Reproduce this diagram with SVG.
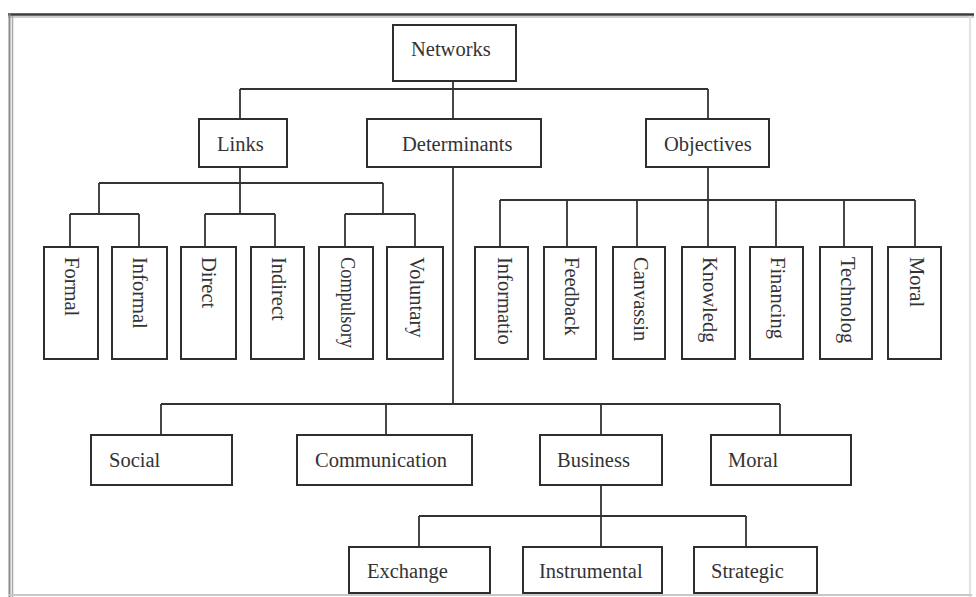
<svg xmlns="http://www.w3.org/2000/svg" width="976" height="597" viewBox="0 0 976 597">
  <style>
    .box { fill: #ffffff; stroke: #2e2e2e; stroke-width: 2; }
    .wire { fill: none; stroke: #333333; stroke-width: 1.8; }
    .lbl { font-family: "Liberation Serif", "Times New Roman", serif; font-size: 20.5px; fill: #333333; }
  </style>

  <rect x="0" y="0" width="976" height="597" fill="#ffffff"/>

  <!-- page frame -->
  <g id="frame" fill="none">
    <line x1="8" y1="14.5" x2="974" y2="14.5" stroke="#3a3a3a" stroke-width="2.5"/>
    <line x1="8" y1="17" x2="974" y2="17" stroke="#bdbdbd" stroke-width="1.5"/>
    <line x1="9.5" y1="14" x2="9.5" y2="597" stroke="#8a8a8a" stroke-width="2"/>
    <line x1="12.5" y1="16" x2="12.5" y2="597" stroke="#a8a8a8" stroke-width="1.5"/>
    <line x1="970" y1="16" x2="970" y2="597" stroke="#e2e2e2" stroke-width="2"/>
    <line x1="9" y1="595" x2="972" y2="595" stroke="#c8c8c8" stroke-width="2"/>
  </g>

  <!-- connectors -->
  <g id="connectors" class="wire">
    <!-- Networks -->
    <path d="M453 81 V119 M240 89 H708 M240 89 V119 M708 89 V119"/>
    <!-- Links -->
    <path d="M240 167 V214 M99 183 H383 M99 183 V214 M383 183 V214"/>
    <path d="M70 214 H139 M70 214 V247 M139 214 V247"/>
    <path d="M205 214 H275 M205 214 V247 M275 214 V247"/>
    <path d="M345 214 H415 M345 214 V247 M415 214 V247"/>
    <!-- Objectives -->
    <path d="M708 167 V247 M500 200 H915"/>
    <path d="M500 200 V247 M567 200 V247 M637 200 V247 M776 200 V247 M844 200 V247 M915 200 V247"/>
    <!-- Determinants -->
    <path d="M453 167 V404 M161 404 H780"/>
    <path d="M161 404 V435 M386 404 V435 M601 404 V435 M780 404 V435"/>
    <!-- Business -->
    <path d="M601 485 V547 M419 516 H746 M419 516 V547 M746 516 V547"/>
  </g>

  <!-- level 0 -->
  <g id="n-networks">
    <rect class="box" x="393" y="25" width="123" height="56"/>
    <text class="lbl" x="411" y="56">Networks</text>
  </g>

  <!-- level 1 -->
  <g id="n-links">
    <rect class="box" x="199" y="119" width="88" height="48"/>
    <text class="lbl" x="217" y="151">Links</text>
  </g>
  <g id="n-determinants">
    <rect class="box" x="367" y="119" width="174" height="48"/>
    <text class="lbl" x="402" y="151">Determinants</text>
  </g>
  <g id="n-objectives">
    <rect class="box" x="646" y="119" width="123" height="48"/>
    <text class="lbl" x="664" y="151">Objectives</text>
  </g>

  <!-- link types (vertical labels) -->
  <g id="n-formal">
    <rect class="box" x="44" y="247" width="54" height="112"/>
    <text class="lbl" transform="translate(65 257) rotate(90)">Formal</text>
  </g>
  <g id="n-informal">
    <rect class="box" x="112" y="247" width="55" height="112"/>
    <text class="lbl" transform="translate(133 257) rotate(90)">Informal</text>
  </g>
  <g id="n-direct">
    <rect class="box" x="181" y="247" width="55" height="112"/>
    <text class="lbl" transform="translate(202 257) rotate(90)">Direct</text>
  </g>
  <g id="n-indirect">
    <rect class="box" x="251" y="247" width="53" height="112"/>
    <text class="lbl" transform="translate(272 257) rotate(90)">Indirect</text>
  </g>
  <g id="n-compulsory">
    <rect class="box" x="319" y="247" width="54" height="112"/>
    <text class="lbl" transform="translate(341 257) rotate(90)" textLength="91" lengthAdjust="spacingAndGlyphs">Compulsory</text>
  </g>
  <g id="n-voluntary">
    <rect class="box" x="387" y="247" width="56" height="112"/>
    <text class="lbl" transform="translate(410 257) rotate(90)">Voluntary</text>
  </g>

  <!-- objectives (vertical labels) -->
  <g id="n-informatio">
    <rect class="box" x="475" y="247" width="53" height="112"/>
    <text class="lbl" transform="translate(498 257) rotate(90)">Informatio</text>
  </g>
  <g id="n-feedback">
    <rect class="box" x="544" y="247" width="52" height="112"/>
    <text class="lbl" transform="translate(565 257) rotate(90)">Feedback</text>
  </g>
  <g id="n-canvassin">
    <rect class="box" x="613" y="247" width="52" height="112"/>
    <text class="lbl" transform="translate(634 257) rotate(90)">Canvassin</text>
  </g>
  <g id="n-knowledg">
    <rect class="box" x="682" y="247" width="53" height="112"/>
    <text class="lbl" transform="translate(703 257) rotate(90)">Knowledg</text>
  </g>
  <g id="n-financing">
    <rect class="box" x="750" y="247" width="53" height="112"/>
    <text class="lbl" transform="translate(771 257) rotate(90)">Financing</text>
  </g>
  <g id="n-technolog">
    <rect class="box" x="820" y="247" width="52" height="112"/>
    <text class="lbl" transform="translate(841 257) rotate(90)">Technolog</text>
  </g>
  <g id="n-moral-obj">
    <rect class="box" x="888" y="247" width="53" height="112"/>
    <text class="lbl" transform="translate(910 257) rotate(90)">Moral</text>
  </g>

  <!-- determinants -->
  <g id="n-social">
    <rect class="box" x="91" y="435" width="141" height="50"/>
    <text class="lbl" x="109" y="467">Social</text>
  </g>
  <g id="n-communication">
    <rect class="box" x="297" y="435" width="175" height="50"/>
    <text class="lbl" x="315" y="467">Communication</text>
  </g>
  <g id="n-business">
    <rect class="box" x="540" y="435" width="122" height="50"/>
    <text class="lbl" x="557" y="467">Business</text>
  </g>
  <g id="n-moral-det">
    <rect class="box" x="711" y="435" width="140" height="50"/>
    <text class="lbl" x="728" y="467">Moral</text>
  </g>

  <!-- business types -->
  <g id="n-exchange">
    <rect class="box" x="349" y="547" width="141" height="46"/>
    <text class="lbl" x="367" y="578">Exchange</text>
  </g>
  <g id="n-instrumental">
    <rect class="box" x="523" y="547" width="139" height="46"/>
    <text class="lbl" x="539" y="578">Instrumental</text>
  </g>
  <g id="n-strategic">
    <rect class="box" x="694" y="547" width="123" height="46"/>
    <text class="lbl" x="711" y="578">Strategic</text>
  </g>
</svg>
